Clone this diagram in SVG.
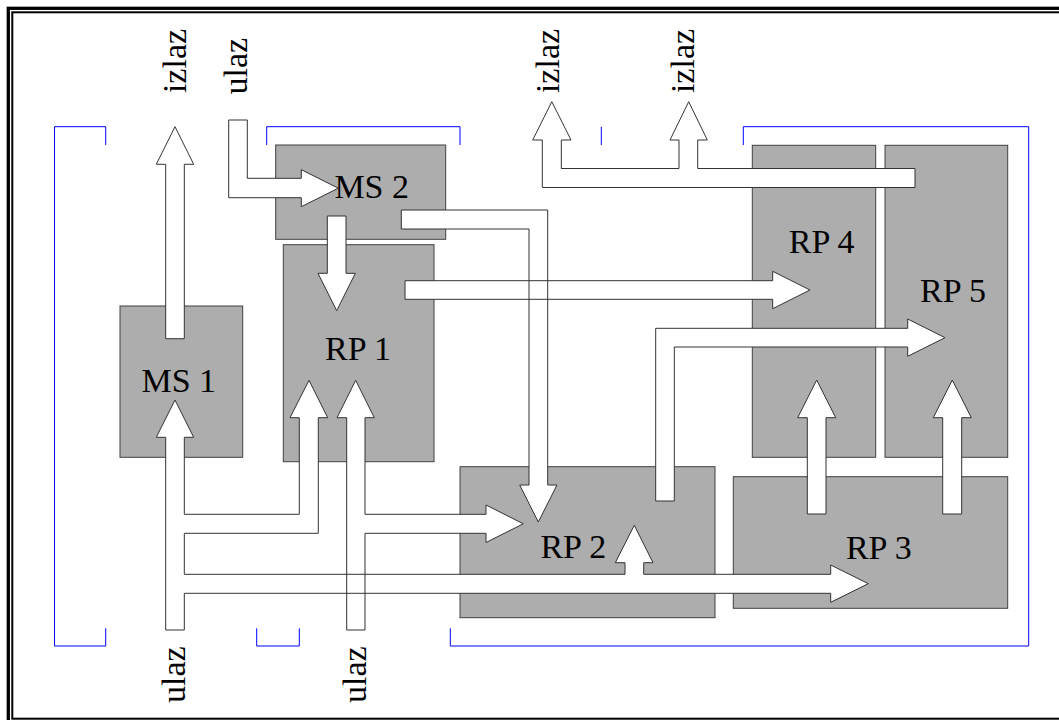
<svg xmlns="http://www.w3.org/2000/svg" xmlns:xlink="http://www.w3.org/1999/xlink" width="1059" height="720" viewBox="0 0 1059 720">
<style>
.box{fill:#adadad;stroke:#404040;stroke-width:1}
.af{fill:#ffffff;stroke:none}
.as{fill:none;stroke:#333333;stroke-width:1}
.br{fill:none;stroke:#0000ff;stroke-width:1}
.lbl{font-family:"Liberation Serif","Times New Roman",serif;font-size:34px;fill:#000000}
.frame{fill:none;stroke:#000000}
</style>
<defs>
<path id="aA" d="M165.7,338.7 V164.3 H156.3 L175,126.7 L193.7,164.3 H184.3 V338.7 Z"/>
<path id="aB" d="M228.7,120 V197.7 H301.3 V206.7 L338.3,188.2 L301.3,169.7 V178.3 H247.3 V120 Z"/>
<path id="aC" d="M327.3,216 V273.3 H318 L336.7,310.7 L355.3,273.3 H346 V216 Z"/>
<path id="aD" d="M401.3,210 H547.7 V485 H557 L538.3,522 L519.7,485 H529 V229 H401.3 Z"/>
<path id="aE" d="M405,280.7 H772.7 V271.3 L810,290 L772.7,308.7 V299.3 H405 Z"/>
<path id="aG" d="M655.7,501 V328.3 H907.7 V319 L945,337.7 L907.7,356.3 V347 H674.3 V501 Z"/>
<path id="aH" d="M915,168.5 V187.5 H542.3 V140 H532.7 L551.8,101.7 L571,140 H561.3 V168.5 H679 V140 H670 L688.7,101.7 L707.3,140 H697.7 V168.5 Z"/>
<path id="aI" d="M807.3,514 V417.7 H797.7 L816.7,380 L835.7,417.7 H826 V514 Z"/>
<path id="aJ" d="M942.7,514 V417.7 H933.3 L952.3,380 L971.3,417.7 H961.7 V514 Z"/>
<path id="aF" d="M165.7,630 V437.3 H156.3 L175,400 L193.7,437.3 H184.3 V514.3 H299.3 V417.7 H290 L309,380.3 L327.7,417.7 H318.3 V533.3 H184.3 V574.3 H625 V562.7 H615.3 L634.3,525.3 L653,562.7 H643.7 V574.3 H830.7 V565 L868.3,583.7 L830.7,602.3 V593.3 H184.3 V630 Z"/>
<path id="aK" d="M346.7,630 V417.7 H337 L355.7,380.3 L374.3,417.7 H365 V514.3 H486 V505 L523.3,523.8 L486,542.5 V533.3 H365 V630 Z"/>
</defs>
<rect class="frame" x="8.3" y="8.3" width="1060" height="715" stroke-width="3.3"/>
<rect class="frame" x="12.3" y="12.3" width="1055" height="706.4" stroke-width="2"/>
<g id="brackets">
<path class="br" d="M105.7,145 V126.7 H54.5 V646 H105.7 V628.3"/>
<path class="br" d="M266.7,145 V126.7 H460 V145"/>
<path class="br" d="M601.3,126.7 V145"/>
<path class="br" d="M743.3,145 V126.7 H1028.7 V646 H450.3 V628.3"/>
<path class="br" d="M256.7,628.3 V646 H299.3 V628.3"/>
</g>
<g id="MS1"><rect class="box" x="120" y="306" width="122.7" height="151.3"/></g>
<g id="MS2"><rect class="box" x="275.7" y="145" width="170" height="94.3"/></g>
<g id="RP1"><rect class="box" x="283.3" y="244.7" width="150.7" height="217"/></g>
<g id="RP2"><rect class="box" x="460" y="466.7" width="255" height="151"/></g>
<g id="RP3"><rect class="box" x="733.3" y="476.7" width="274.4" height="131.6"/></g>
<g id="RP4"><rect class="box" x="752.3" y="145.3" width="123.4" height="312"/></g>
<g id="RP5"><rect class="box" x="885" y="145.3" width="122.7" height="312"/></g>
<g id="connectors">
<use xlink:href="#aA" class="af"/>
<use xlink:href="#aB" class="af"/>
<use xlink:href="#aC" class="af"/>
<use xlink:href="#aD" class="af"/>
<use xlink:href="#aE" class="af"/>
<use xlink:href="#aG" class="af"/>
<use xlink:href="#aH" class="af"/>
<use xlink:href="#aI" class="af"/>
<use xlink:href="#aJ" class="af"/>
<use xlink:href="#aF" class="af"/>
<use xlink:href="#aK" class="af"/>
<use xlink:href="#aA" class="as"/>
<use xlink:href="#aB" class="as"/>
<use xlink:href="#aC" class="as"/>
<use xlink:href="#aD" class="as"/>
<use xlink:href="#aE" class="as"/>
<use xlink:href="#aG" class="as"/>
<use xlink:href="#aH" class="as"/>
<use xlink:href="#aI" class="as"/>
<use xlink:href="#aJ" class="as"/>
<use xlink:href="#aF" class="as"/>
<use xlink:href="#aK" class="as"/>
</g>
<g id="labels" text-anchor="middle">
<text class="lbl" x="178.8" y="392.3">MS 1</text>
<text class="lbl" x="371.7" y="198.3">MS 2</text>
<text class="lbl" x="358" y="359.5">RP 1</text>
<text class="lbl" x="573.3" y="558.3">RP 2</text>
<text class="lbl" x="878.8" y="559">RP 3</text>
<text class="lbl" x="821.7" y="253">RP 4</text>
<text class="lbl" x="953" y="301.7">RP 5</text>
<text class="lbl" transform="translate(185.7,61) rotate(-90)">izlaz</text>
<text class="lbl" transform="translate(247.3,66.2) rotate(-90)">ulaz</text>
<text class="lbl" transform="translate(559.3,61) rotate(-90)">izlaz</text>
<text class="lbl" transform="translate(694.3,61) rotate(-90)">izlaz</text>
<text class="lbl" transform="translate(185,674.7) rotate(-90)">ulaz</text>
<text class="lbl" transform="translate(366,674.7) rotate(-90)">ulaz</text>
</g>
</svg>
